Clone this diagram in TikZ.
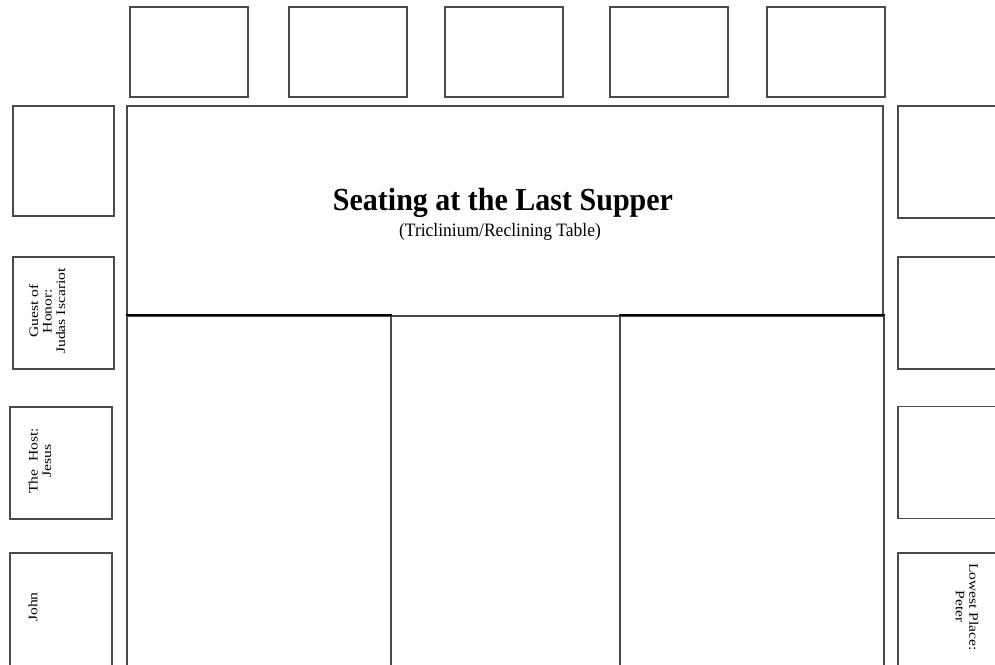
\documentclass[tikz,border=0pt]{standalone}
\usepackage{fontspec}
\setmainfont{Liberation Serif}
\usepackage{tikz}
\usetikzlibrary{positioning}
\definecolor{seatgray}{HTML}{4A4A4A}

\begin{document}
\begin{tikzpicture}[x=1pt, y=-1pt]
    \tikzset{seat/.style={rectangle, draw=seatgray, line width=1.8pt, inner sep=0pt, anchor=north west}}
    \tikzset{tablebox/.style={rectangle, draw=seatgray, line width=1.5pt, inner sep=0pt, anchor=north west}}
    \tikzset{guest/.style={font=\fontsize{13}{13.5}\selectfont, align=center, inner sep=0pt}}
    \tikzset{wingedge/.style={draw=black, line width=2.2pt}}

    \useasboundingbox (0,0) rectangle (995,664);
    \clip (0,0) rectangle (995,664);

    % Top row of places
    \foreach \x [count=\i] in {128.7,288.3,444,609,766}
        \node[seat, minimum width=118pt, minimum height=90pt] (top\i) at (\x,6) {};

    % Table
    \node[tablebox, minimum width=756pt, minimum height=210pt] (head) at (126,105) {};
    \node[tablebox, minimum width=264pt, minimum height=360pt] (wingL) at (126,315) {};
    \node[tablebox, minimum width=264pt, minimum height=360pt] (wingR) at (619,315) {};
    \draw[wingedge] (wingL.north west) -- (wingL.north east);
    \draw[wingedge] (wingR.north west) -- (wingR.north east);

    % Title
    \node[anchor=base, yscale=1.07, font=\fontsize{30}{32}\selectfont\bfseries] (title) at (503,210) {Seating at the Last Supper};
    \node[anchor=base, yscale=1.08, font=\fontsize{17.5}{19}\selectfont] (subtitle) at (500,236) {(Triclinium/Reclining Table)};

    % Left column
    \node[seat, minimum width=101pt, minimum height=110pt] (left1) at (12,105) {};
    \node[seat, minimum width=101pt, minimum height=112pt] (left2) at (11.7,255.7) {};
    \node[seat, minimum width=102pt, minimum height=112pt] (left3) at (9,405.7) {};
    \node[seat, minimum width=102pt, minimum height=120pt] (left4) at (9,552) {};

    % Right column
    \node[seat, minimum width=110pt, minimum height=112pt] (right1) at (897,105) {};
    \node[seat, minimum width=110pt, minimum height=112pt] (right2) at (897,255.7) {};
    \node[seat, minimum width=110pt, minimum height=112pt] (right3) at (897,405.5) {};
    \node[seat, minimum width=110pt, minimum height=120pt] (right4) at (897,552) {};

    % Names
    \node[guest, yscale=1.2, rotate=90] (judas) at (47,311) {Guest of\\Honor:\\Judas Iscariot};
    \node[guest, yscale=1.2, rotate=90] (jesus) at (40,461) {The\ \ Host:\\Jesus};
    \node[guest, yscale=1.2, rotate=90] (john) at (33,607) {John};
    \node[guest, yscale=1.2, rotate=-90] (peter) at (967,607) {Lowest Place:\\Peter};
\end{tikzpicture}
\end{document}
